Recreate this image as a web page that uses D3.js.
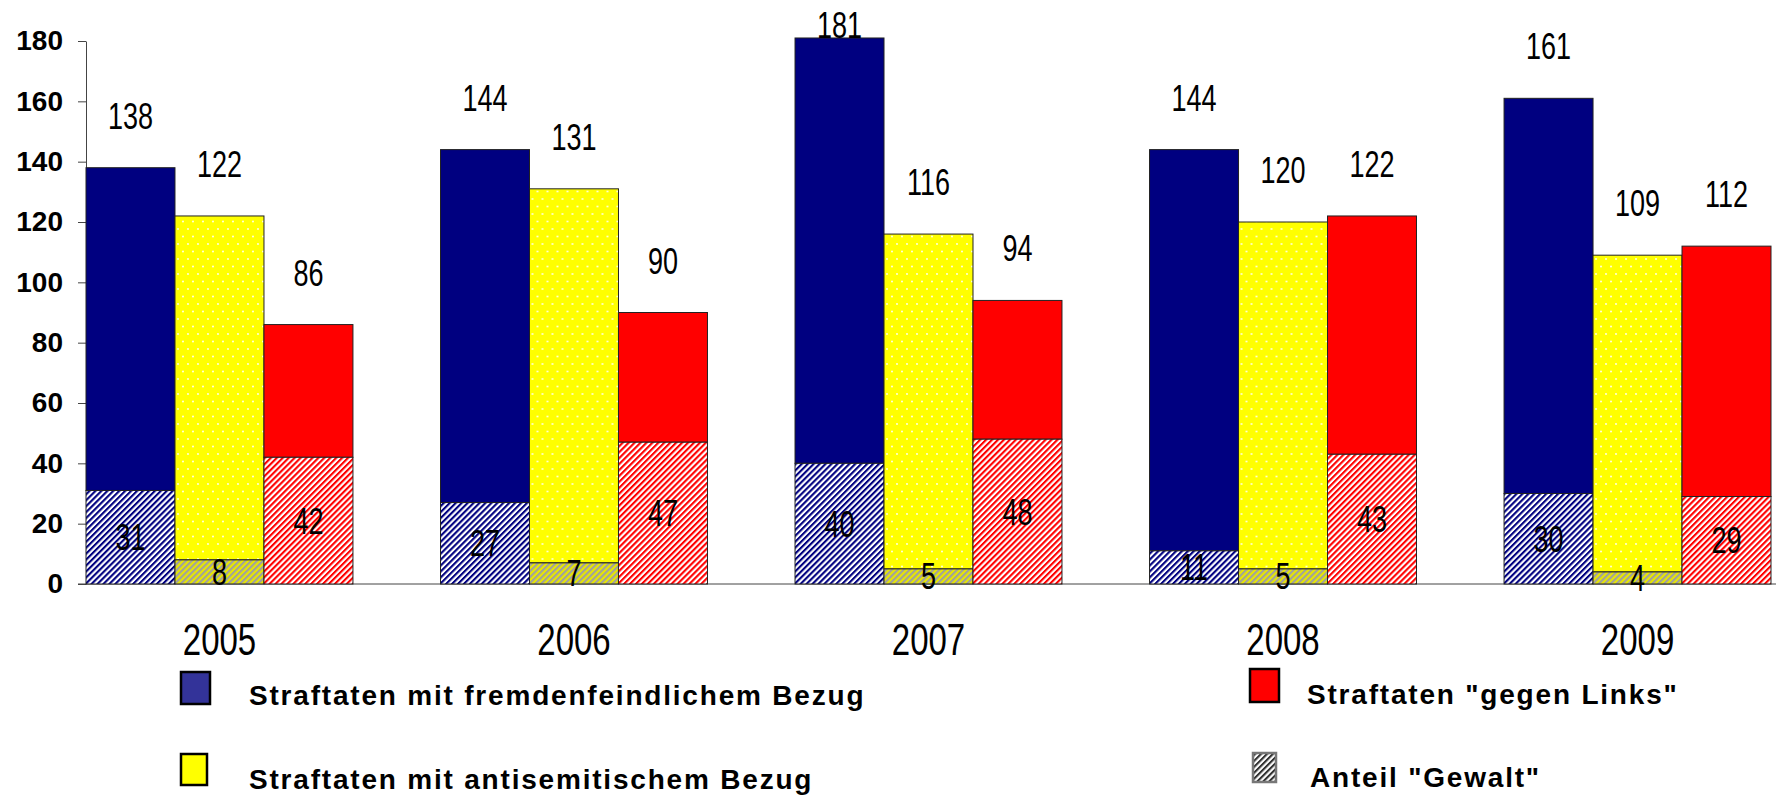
<!DOCTYPE html>
<html>
<head>
<meta charset="utf-8">
<script src="https://cdn.jsdelivr.net/npm/d3@7"></script>
<style>
  body { margin: 0; background: #fff; }
  svg { display: block; }
</style>
</head>
<body>
<div id="view"></div>
<script>
// chart data
var years = ["2005", "2006", "2007", "2008", "2009"];
var seriesKeys = ["fremd", "anti", "links"];
var fremdTotal = [138, 144, 181, 144, 161];
var fremdGewalt = [31, 27, 40, 11, 30];
var antiTotal = [122, 131, 116, 120, 109];
var antiGewalt = [8, 7, 5, 5, 4];
var linksTotal = [86, 90, 94, 122, 112];
var linksGewalt = [42, 47, 48, 43, 29];
var yTicks = [0, 20, 40, 60, 80, 100, 120, 140, 160, 180];
var legendLabels = [
    "Straftaten mit fremdenfeindlichem Bezug",
    "Straftaten mit antisemitischem Bezug",
    "Straftaten \"gegen Links\"",
    "Anteil \"Gewalt\""
];

var W = 1776, H = 795;
var margin = {top: 41, right: 5, bottom: 211, left: 86};
var plotBottom = H - margin.bottom;

var totals = {fremd: fremdTotal, anti: antiTotal, links: linksTotal};
var gewalt = {fremd: fremdGewalt, anti: antiGewalt, links: linksGewalt};

var svg = d3.select("#view")
    .append("svg")
    .attr("width", W)
    .attr("height", H);

var defs = svg.append("defs");

// dotted yellow fill
var dots = defs.append("pattern")
    .attr("id", "dots")
    .attr("patternUnits", "userSpaceOnUse")
    .attr("width", 10)
    .attr("height", 15);
dots.append("rect").attr("width", 10).attr("height", 15).attr("fill", "#ffff00");
dots.append("circle").attr("cx", 3).attr("cy", 4).attr("r", 0.9).attr("fill", "#fff");
dots.append("circle").attr("cx", 8).attr("cy", 11.5).attr("r", 0.9).attr("fill", "#fff");

// diagonal hatching for the violence share
function hatch(id, bg, stripe) {
    var p = defs.append("pattern")
        .attr("id", id)
        .attr("patternUnits", "userSpaceOnUse")
        .attr("width", 4.2)
        .attr("height", 4.2)
        .attr("patternTransform", "rotate(45)");
    p.append("rect").attr("width", 4.2).attr("height", 4.2).attr("fill", bg);
    p.append("rect").attr("width", 2.1).attr("height", 4.2).attr("fill", stripe);
}
hatch("h-fremd", "#ffffff", "#000080");
hatch("h-anti", "#e8e800", "#a0a0a0");
hatch("h-links", "#ffffff", "#ff0000");
hatch("h-legend", "#ffffff", "#333333");

var fills = {fremd: "#000080", anti: "url(#dots)", links: "#ff0000"};

var y = d3.scaleLinear()
    .domain([0, 180])
    .range([plotBottom, margin.top]);

var x0 = d3.scaleBand()
    .domain(years)
    .range([margin.left, W - margin.right])
    .paddingInner(0.247)
    .paddingOuter(0)
    .align(0);

var x1 = d3.scaleBand()
    .domain(seriesKeys)
    .range([0, x0.bandwidth()]);

// y axis
var yAxis = svg.append("g")
    .attr("transform", "translate(" + margin.left + ",0)")
    .call(d3.axisLeft(y)
        .tickValues(yTicks)
        .tickSize(8)
        .tickSizeOuter(0)
        .tickPadding(15));
yAxis.select(".domain").attr("stroke", "#444");
yAxis.selectAll(".tick line").attr("stroke", "#444");
yAxis.selectAll("text")
    .attr("font-family", "Liberation Sans, Arial, sans-serif")
    .attr("font-weight", "bold")
    .attr("font-size", 28)
    .attr("fill", "#000");

// baseline
svg.append("line")
    .attr("x1", margin.left - 8)
    .attr("x2", W)
    .attr("y1", y(0))
    .attr("y2", y(0))
    .attr("stroke", "#444");

var rows = [];
years.forEach(function(yr, i) {
    seriesKeys.forEach(function(k) {
        rows.push({year: yr, key: k, total: totals[k][i], gewalt: gewalt[k][i]});
    });
});

var bars = svg.append("g")
    .selectAll("g")
    .data(rows)
    .enter().append("g")
    .attr("transform", function(d) { return "translate(" + (x0(d.year) + x1(d.key)) + ",0)"; });

// upper (non violent) part
bars.append("rect")
    .attr("x", 0)
    .attr("width", x1.bandwidth())
    .attr("y", function(d) { return y(d.total); })
    .attr("height", function(d) { return y(d.gewalt) - y(d.total); })
    .attr("fill", function(d) { return fills[d.key]; })
    .attr("stroke", "#222")
    .attr("stroke-width", 1);

// violent share
bars.append("rect")
    .attr("x", 0)
    .attr("width", x1.bandwidth())
    .attr("y", function(d) { return y(d.gewalt); })
    .attr("height", function(d) { return y(0) - y(d.gewalt); })
    .attr("fill", function(d) { return "url(#h-" + d.key + ")"; })
    .attr("stroke", "#222")
    .attr("stroke-width", 1);

function narrow(sel, size) {
    sel.attr("font-family", "Liberation Sans, Arial, sans-serif")
        .attr("font-size", size)
        .attr("text-anchor", "middle")
        .attr("fill", "#000");
}

// total labels above the bars
bars.append("text")
    .call(narrow, 37)
    .attr("transform", function(d) {
        var ty = Math.max(y(d.total) - 39, 38);
        return "translate(" + (x1.bandwidth() / 2) + "," + ty + ") scale(0.73,1)";
    })
    .text(function(d) { return d.total; });

// violence labels centred in the hatched part
bars.append("text")
    .call(narrow, 37)
    .attr("transform", function(d) {
        var ty = y(d.gewalt / 2) + 13;
        return "translate(" + (x1.bandwidth() / 2) + "," + ty + ") scale(0.73,1)";
    })
    .text(function(d) { return d.gewalt; });

// year labels
svg.append("g")
    .selectAll("text")
    .data(years)
    .enter().append("text")
    .call(narrow, 44)
    .attr("transform", function(d) {
        return "translate(" + (x0(d) + x0.bandwidth() / 2) + "," + (plotBottom + 71) + ") scale(0.75,1)";
    })
    .text(function(d) { return d; });

// legend
var legendFills = ["#333399", "#ffff00", "#ff0000", "url(#h-legend)"];
var legendStroke = ["#000", "#000", "#000", "#777"];
var legendCol = [181, 181, 1250, 1253];
var legendRow = [672, 754, 669, 753];
var legendSize = [[29, 32], [26, 31], [29, 33], [23, 29]];
var legendTextX = [249, 249, 1307, 1310];
var legendTextY = [705, 789, 704, 787];

var lg = svg.append("g")
    .selectAll("g")
    .data(legendLabels)
    .enter().append("g");

lg.append("rect")
    .attr("x", function(d, i) { return legendCol[i]; })
    .attr("y", function(d, i) { return legendRow[i]; })
    .attr("width", function(d, i) { return legendSize[i][0]; })
    .attr("height", function(d, i) { return legendSize[i][1]; })
    .attr("fill", function(d, i) { return legendFills[i]; })
    .attr("stroke", function(d, i) { return legendStroke[i]; })
    .attr("stroke-width", 2.5);

lg.append("text")
    .attr("x", function(d, i) { return legendTextX[i]; })
    .attr("y", function(d, i) { return legendTextY[i]; })
    .attr("font-family", "Liberation Sans, Arial, sans-serif")
    .attr("font-weight", "bold")
    .attr("font-size", 28)
    .attr("letter-spacing", 1.8)
    .attr("fill", "#000")
    .text(function(d) { return d; });
</script>
</body>
</html>
